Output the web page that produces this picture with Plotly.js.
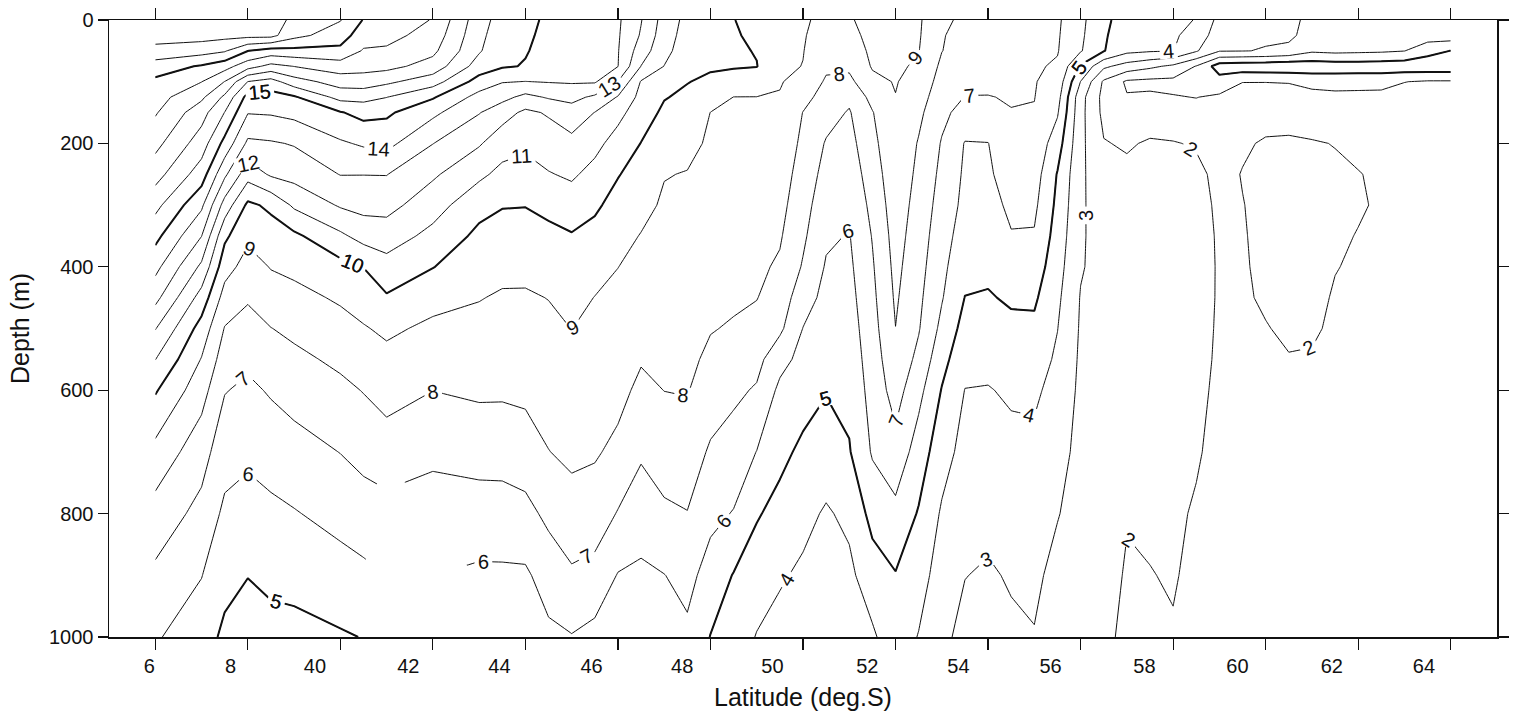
<!DOCTYPE html>
<html>
<head>
<meta charset="utf-8">
<script src="https://cdn.plot.ly/plotly-3.0.1.min.js"></script>
<style>
html,body{margin:0;padding:0;background:#ffffff;}
#chart{width:1515px;height:718px;}
</style>
</head>
<body>
<div id="chart"></div>
<script>
// Station latitudes (deg S) and sample depths (m)
const latitude = [36,37,37.5,38,38.5,39,40,40.5,41,42,43,43.5,44,44.5,45,45.5,46,46.5,47,47.5,48,48.5,49,49.5,50,50.5,51,51.5,52,52.5,53,53.5,54,54.5,55,55.5,56,56.5,57,57.5,58,58.5,59,59.5,60,60.5,61,61.5,62,62.5,63,63.5,64];
const depth = [0,25,50,75,100,125,150,200,250,300,350,400,450,500,550,600,700,800,900,1000];

// Temperature (deg C) at each depth, one value per station
const temp0    = [22.8,22.7,22.6,22.5,22.4,21.8,21.05,19.95,19.6,18.95,16.4,15.6,15.15,14.9,14.6,14.4,14.15,13.05,11.6,10.7,10.4,10.02,9.75,9.35,9.1,8.8,8.9,9.35,9.3,9.15,8.1,7.9,7.6,7.35,7.25,7.15,6.25,5.2,4.6,4.3,4.3,3.95,2.7,2.45,2.25,2.15,1.85,1.7,1.6,1.55,1.5,1.45,1.4];
const temp25   = [22.4,22.4,22.3,22.3,22.3,21.3,20.46,19.46,19.3,18.62,16.25,15.45,15.1,14.85,14.55,14.35,14.1,12.9,11.45,10.6,10.3,10.1,9.8,9.3,9.07,8.6,8.7,9.3,9.28,9.1,8.05,7.75,7.5,7.3,7.2,7.1,6.18,5.12,4.45,4.2,4.15,3.6,2.45,2.25,2.12,2.2,1.6,1.5,1.45,1.4,1.35,1.5,1.55];
const temp50   = [21.7,21.4,21.1,20.02,19.6,19.7,19.75,18.91,18.86,18.23,16.1,15.3,15.05,14.75,14.45,14.3,14.05,12.5,11.3,10.45,10.2,10.15,9.95,9.25,9.03,8.4,8.45,9.2,9.22,9.03,8.02,7.6,7.4,7.24,7.15,7.05,6.08,5.05,4.25,4.1,4.02,3.1,2.06,2.03,1.95,1.75,1.15,1.25,1.2,1.15,1.02,0.35,-0.02];
const temp75   = [20.5,19.9,19.4,18.4,17.7,18.02,18.52,18.35,18.3,17.6,15.55,15.1,14.95,14.5,14.3,14.2,14.02,11.98,10.98,10.25,10.1,10.08,10.03,9.18,8.98,8.15,8.18,9.08,9.15,8.87,7.81,7.35,7.28,7.18,7.1,6.9,4.89,3.2,2.6,2.2,1.8,0.95,-0.5,-0.6,-0.65,-0.7,-0.6,-0.5,-0.5,-0.55,-0.6,-0.65,-0.65];
const temp100  = [19.8,19.02,17.98,15.98,15.6,16.56,17.45,17.53,17.2,16.44,14.59,14.05,13.98,14.05,14.1,14.1,12.98,10.93,10.53,10.03,9.84,9.59,9.4,9.07,8.63,7.89,7.76,8.77,9.05,8.65,7.62,7.17,7.13,7.1,7.05,6.63,3.98,1.85,0.85,0.75,0.75,0.7,0.41,0.98,0.98,0.95,0.67,0.55,0.6,0.65,0.98,1.1,1.1];
const temp125  = [19.4,18.2,16.8,14.65,14.6,14.88,16.33,16.33,16.02,15.1,13.65,13.3,12.73,13.1,13.27,12.83,11.93,10.7,10.05,9.83,9.4,8.99,8.99,8.94,8.3,7.63,7.2,8.3,8.98,8.43,7.42,6.98,6.98,7.04,7.02,6.37,3.35,1.7,1.06,1.16,1.05,0.98,1.15,1.35,1.4,1.4,1.35,1.3,1.3,1.3,1.35,1.4,1.4];
const temp150  = [19.1,17.4,15.98,14.05,14.1,14.29,14.93,15.32,15.17,14.23,13.05,12.4,11.8,12.1,12.58,11.98,11.3,10.45,9.83,9.64,8.99,8.93,8.93,8.85,7.98,7.37,6.92,7.95,8.91,8.22,7.23,6.65,6.65,6.98,6.95,6.1,3.3,1.75,1.35,1.5,1.4,1.29,1.35,1.6,1.7,1.72,1.65,1.62,1.6,1.58,1.55,1.55,1.55];
const temp200  = [18.3,16.5,14.7,12.8,12.9,13.07,13.87,14.13,14.3,13.02,12.1,11.42,11.2,11.5,11.72,11.29,10.59,9.98,9.43,9.26,8.86,8.79,8.78,8.67,7.79,6.92,6.67,7.73,8.78,7.93,6.93,5.95,5.98,6.72,6.7,5.47,3.25,2.05,1.9,2.1,2.05,1.92,1.6,1.9,2.08,2.1,2.05,1.98,1.88,1.82,1.75,1.75,1.75];
const temp250  = [17.4,15.5,13.2,11.4,12.14,12.35,13.03,13.02,13.03,12.15,11.21,10.73,10.6,10.94,11.15,10.68,10.05,9.63,9.04,8.96,8.73,8.65,8.63,8.48,7.58,6.67,6.42,7.5,8.65,7.79,6.76,5.85,5.85,6.47,6.45,4.94,3.2,2.3,2.2,2.3,2.25,2.2,1.78,2.03,2.15,2.2,2.2,2.1,2.02,1.92,1.85,1.85,1.85];
const temp300  = [16.3,14.2,11.6,9.8,10.2,11.17,12.11,12.32,12.33,11.42,10.32,10.05,10.03,10.25,10.51,10.15,9.68,9.28,8.87,8.83,8.6,8.52,8.48,8.3,7.37,6.41,6.16,7.27,8.52,7.64,6.59,5.75,5.63,6.21,6.2,4.77,3.15,2.5,2.35,2.4,2.33,2.3,1.85,1.98,2.18,2.25,2.25,2.12,2.05,1.94,1.88,1.88,1.88];
const temp350  = [15.3,13.02,10.2,9.2,9.55,9.8,10.81,11.37,11.49,10.72,9.77,9.64,9.62,9.76,9.93,9.73,9.3,8.96,8.73,8.7,8.46,8.38,8.33,8.1,7.17,6.15,5.95,7.05,8.39,7.5,6.41,5.55,5.42,5.94,5.92,4.58,3.12,2.6,2.45,2.45,2.38,2.35,1.9,1.95,2.18,2.25,2.25,2.08,1.98,1.92,1.88,1.88,1.88];
const temp400  = [14.3,11.8,9.4,8.6,9.05,9.23,9.69,10.02,10.63,10.03,9.4,9.24,9.22,9.38,9.6,9.35,9.01,8.75,8.58,8.57,8.33,8.25,8.18,7.87,6.91,5.91,5.81,6.9,8.26,7.36,6.24,5.3,5.2,5.53,5.55,4.38,3.08,2.65,2.5,2.45,2.38,2.35,1.92,1.93,2.15,2.22,2.22,2.02,1.93,1.9,1.87,1.87,1.87];
const temp450  = [13.3,10.6,8.6,8.1,8.54,8.71,9.13,9.45,9.9,9.33,9.04,8.9,8.9,9.02,9.3,8.98,8.8,8.52,8.44,8.44,8.2,8.11,8.03,7.53,6.45,5.7,5.67,6.77,8.13,7.21,6.07,4.98,4.92,5.13,5.15,4.19,2.95,2.65,2.5,2.42,2.36,2.33,1.92,1.92,2.08,2.18,2.15,1.95,1.9,1.88,1.86,1.86,1.86];
const temp500  = [12.05,9.6,7.95,7.65,7.98,8.22,8.65,8.92,9.19,8.79,8.74,8.64,8.67,8.8,9.01,8.8,8.62,8.3,8.3,8.31,8.04,7.93,7.7,7.2,5.98,5.49,5.53,6.63,7.99,7.07,5.75,4.64,4.6,4.78,4.8,4.02,2.9,2.65,2.45,2.4,2.33,2.3,1.9,1.9,1.97,2.1,2.08,1.9,1.88,1.86,1.85,1.85,1.85];
const temp550  = [11.02,8.95,7.5,7.2,7.57,7.77,8.2,8.48,8.72,8.4,8.45,8.4,8.44,8.6,8.8,8.63,8.45,8.07,8.15,8.18,7.84,7.57,7.3,6.33,5.7,5.28,5.39,6.5,7.7,6.75,5.33,4.31,4.25,4.45,4.48,3.84,2.85,2.6,2.4,2.35,2.3,2.25,1.88,1.88,1.9,1.97,1.95,1.87,1.86,1.85,1.84,1.84,1.84];
const temp600  = [10.1,8.4,7.05,6.8,7.1,7.37,7.77,8.04,8.35,8.01,8.15,8.14,8.2,8.4,8.6,8.45,8.27,7.79,8.01,8.05,7.52,7.2,6.9,5.78,5.4,5.06,5.25,6.37,7.41,6.3,4.95,3.98,3.95,4.13,4.16,3.68,2.8,2.55,2.35,2.3,2.26,2.18,1.85,1.86,1.85,1.9,1.88,1.84,1.84,1.83,1.82,1.82,1.82];
const temp700  = [8.7,7.4,6.4,6.2,6.42,6.62,7.02,7.3,7.55,7.23,7.4,7.4,7.55,7.98,8.2,8.1,7.78,7.15,7.45,7.54,6.87,6.58,5.98,5.25,4.8,4.47,4.93,6.1,6.68,5.53,4.4,3.67,3.6,3.74,3.78,3.37,2.7,2.45,2.2,2.2,2.2,2.07,1.8,1.82,1.8,1.83,1.82,1.8,1.8,1.8,1.79,1.79,1.79];
const temp800  = [7.6,6.7,5.8,5.6,5.78,5.94,6.31,6.54,null,6.5,6.52,6.55,6.7,7.23,7.62,7.54,6.94,6.39,6.84,6.97,6.25,5.95,5.09,4.69,4.25,3.9,4.2,5.33,5.72,4.92,3.88,3.35,3.24,3.41,3.49,3.05,2.6,2.3,2.03,2.1,2.12,1.93,1.75,1.77,1.75,1.78,1.77,1.76,1.76,1.76,1.75,1.75,1.75];
const temp900  = [6.8,6.03,5.3,5.02,5.2,5.3,5.62,5.78,null,null,5.85,5.85,5.85,6.42,6.86,6.67,5.95,5.85,5.98,6.3,5.6,4.95,4.5,4.1,3.85,3.6,3.8,4.52,4.95,4.45,3.5,3.02,2.9,3.08,3.2,2.7,2.5,2.2,1.95,1.98,2.05,1.85,1.7,1.72,1.7,1.72,1.72,1.72,1.72,1.72,1.72,1.72,1.72];
const temp1000 = [6.1,5.45,4.8,4.6,4.7,4.7,4.9,5.03,null,null,5.45,5.3,5.2,5.8,5.95,5.7,5.5,5.55,5.5,5.8,4.97,4.55,3.95,3.7,3.55,3.35,3.5,3.85,4.6,3.95,3.2,2.75,2.65,2.85,2.95,2.55,2.4,2.1,1.9,1.9,1.95,1.8,1.65,1.68,1.65,1.68,1.68,1.68,1.68,1.68,1.68,1.68,1.68];

// Axis ticks and tick labels as printed on the figure
const tickLatitudes = [36,38,40,42,44,46,48,50,52,54,56,58,60,62,64];
const labelLatitudes = [35.87,37.63,39.45,41.47,43.44,45.43,47.39,49.34,51.39,53.36,55.35,57.38,59.39,61.43,63.42];
const labelTexts = ['6','8','40','42','44','46','48','50','52','54','56','58','60','62','64'];
const depthTicks = [0,200,400,600,800,1000];

const temperature = [temp0,temp25,temp50,temp75,temp100,temp125,temp150,temp200,temp250,temp300,
  temp350,temp400,temp450,temp500,temp550,temp600,temp700,temp800,temp900,temp1000];

const FONT = 'Arial, "Liberation Sans", Helvetica, sans-serif';
const INK = '#111111';
const CLEAR = 'rgba(17,17,17,0)';
const THIN = 1.0, THICK = 2.0;

// colorscale that shows only chosen integer levels between start and end
function levelScale(start, end, visible) {
  const span = end - start;
  const p = v => Math.min(1, Math.max(0, (v - start) / span));
  const stops = [];
  for (let v = start; v <= end; v++) {
    const c = visible(v) ? INK : CLEAR;
    if (stops.length === 0) stops.push([0, c]);
    stops.push([p(v - 0.3), c]);
    stops.push([p(v + 0.3), c]);
  }
  stops.push([1, stops[stops.length - 1][1]]);
  const out = [];
  stops.forEach(s => {
    if (out.length && s[0] < out[out.length - 1][0]) s[0] = out[out.length - 1][0];
    out.push(s);
  });
  return out;
}

function contourTrace(start, end, width, labels, visible) {
  return {
    type: 'contour',
    x: latitude, y: depth, z: temperature,
    xaxis: 'x', yaxis: 'y',
    autocontour: false,
    connectgaps: false,
    contours: {
      start: start, end: end, size: 1,
      coloring: 'lines',
      showlabels: labels,
      labelfont: {family: FONT, size: 20}
    },
    colorscale: levelScale(start, end, visible),
    autocolorscale: false,
    line: {width: width, smoothing: 0},
    showscale: false,
    hoverinfo: 'skip'
  };
}

// Empty levels outside the data range only widen or tighten label spacing.
const WARM = [10, 40];   // labelled 10..15
const COLD = [-40, 9];   // labelled 2..9
const traces = [
  contourTrace(0, 22, THIN, false, v => v <= 1 || v >= 16),
  contourTrace(0, 22, THICK, false, v => v === 0 || v === 20),
  contourTrace(WARM[0], WARM[1], THIN, true, v => v >= 10 && v <= 15),
  contourTrace(WARM[0], WARM[1], THICK, true, v => v === 10 || v === 15),
  contourTrace(COLD[0], COLD[1], THIN, true, v => v >= 2 && v <= 9),
  contourTrace(COLD[0], COLD[1], THICK, true, v => v === 5),
  {type: 'scatter', x: [], y: [], xaxis: 'x2', yaxis: 'y', mode: 'markers', hoverinfo: 'skip', showlegend: false}
];

const layout = {
  width: 1515,
  height: 718,
  margin: {l: 109, r: 18, t: 20, b: 81},
  paper_bgcolor: '#ffffff',
  plot_bgcolor: '#ffffff',
  font: {family: FONT, size: 20, color: INK},
  showlegend: false,
  xaxis: {
    range: [35, 65],
    tickmode: 'array',
    tickvals: tickLatitudes,
    showticklabels: false,
    ticks: 'outside',
    ticklen: 11,
    tickwidth: 1.2,
    tickcolor: INK,
    showline: true,
    linecolor: INK,
    linewidth: 1.5,
    mirror: 'ticks',
    showgrid: false,
    zeroline: false
  },
  xaxis2: {
    overlaying: 'x',
    anchor: 'y',
    side: 'bottom',
    range: [35, 65],
    tickmode: 'array',
    tickvals: labelLatitudes,
    ticktext: labelTexts,
    ticks: 'outside',
    ticklen: 11,
    tickcolor: 'rgba(0,0,0,0)',
    showline: false,
    showgrid: false,
    zeroline: false,
    tickfont: {family: FONT, size: 20, color: INK},
    title: {text: 'Latitude (deg.S)', font: {family: FONT, size: 25, color: INK}, standoff: 12}
  },
  yaxis: {
    range: [1000, 0],
    tickmode: 'array',
    tickvals: depthTicks,
    ticks: 'outside',
    ticklen: 10,
    tickwidth: 1.2,
    tickcolor: INK,
    showline: true,
    linecolor: INK,
    linewidth: 1.5,
    mirror: 'ticks',
    showgrid: false,
    zeroline: false,
    tickfont: {family: FONT, size: 20, color: INK},
    title: {text: 'Depth (m)', font: {family: FONT, size: 25, color: INK}, standoff: 12}
  }
};

Plotly.newPlot('chart', traces, layout, {displayModeBar: false, staticPlot: true});
</script>
</body>
</html>
